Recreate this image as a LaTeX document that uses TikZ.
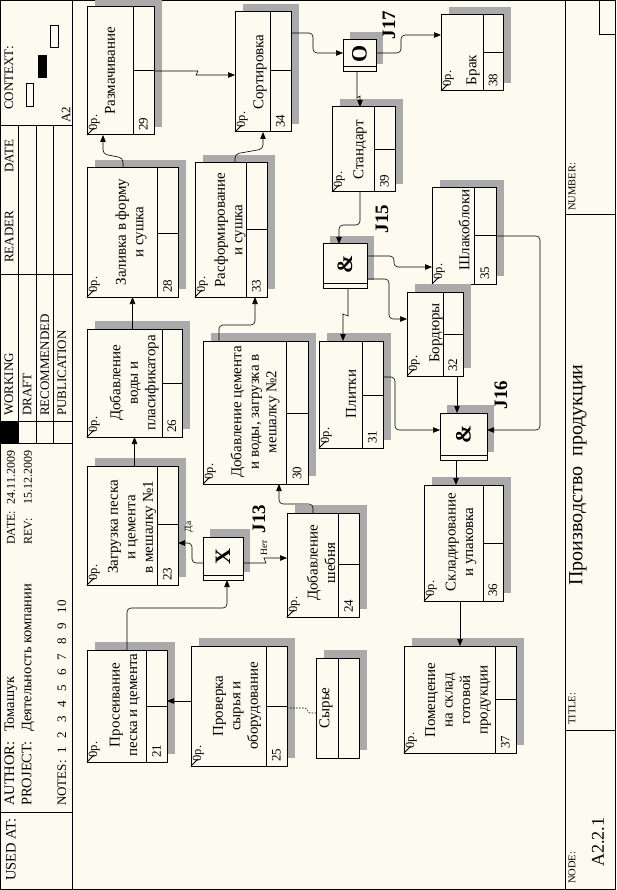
\documentclass[tikz,border=0pt]{standalone}
\usepackage{fontspec}
\setmainfont{Liberation Serif}
\usetikzlibrary{arrows.meta}
\definecolor{paper1}{RGB}{253,251,240}
\definecolor{shade1}{RGB}{170,170,170}

\tikzset{
  uobbox/.style={draw, line width=1pt, fill=paper1, inner sep=0pt, outer sep=0pt, anchor=north west},
  uobtext/.style={rotate=90, align=center, inner sep=0pt, font=\fontsize{15}{17.5}\selectfont},
  oplabel/.style={rotate=90, anchor=north west, inner sep=0.5pt, font=\fontsize{12.5}{14}\selectfont},
  numlabel/.style={rotate=90, anchor=west, inner sep=1pt, font=\fontsize{13}{15}\selectfont},
  juncsym/.style={rotate=90, inner sep=0pt, font=\bfseries\fontsize{22}{24}\selectfont},
  jlabel/.style={rotate=90, inner sep=0pt, font=\bfseries\fontsize{19}{22}\selectfont},
  branch/.style={rotate=90, inner sep=0pt, font=\fontsize{9.5}{10}\selectfont},
  hdr/.style={rotate=90, anchor=west, inner sep=0pt, font=\fontsize{13}{15}\selectfont},
  big hdr/.style={hdr, font=\fontsize{14.5}{16}\selectfont},
  small hdr/.style={hdr, font=\fontsize{10.5}{12}\selectfont},
  link/.style={line width=0.6pt, rounded corners=4pt},
  arr/.style={link, -{Triangle[length=7pt,width=5.5pt]}},
  dotlink/.style={line width=0.6pt, dash pattern=on 1.5pt off 1.5pt},
  frame/.style={line width=1pt},
}

% unit of behaviour: name, left, top, right, bottom, divider x, divider y, number
\newcommand{\uob}[8]{%
  \fill[shade1] (#2+8,#3-8) rectangle (#4+8,#5-8);
  \node[uobbox, minimum width={(#4-#2)*1pt}, minimum height={(#5-#3)*1pt}] (#1) at (#2,#3) {};
  \draw[line width=1pt] (#6,#3) -- (#6,#5) (#6,#7) -- (#4,#7);
  \draw[line width=1pt] (#2,#5) -- ++(7,-7);
  \node[oplabel] (#1o) at (#2+1,#5-4) {0р.};
  \node[numlabel] (#1n) at ({(#6+#4)/2},#5-3) {#8};
}
% junction: name, left, top, right, bottom, symbol
\newcommand{\junc}[6]{%
  \fill[shade1] (#2+7,#3-8) rectangle (#4+7,#5-8);
  \node[uobbox, minimum width={(#4-#2)*1pt}, minimum height={(#5-#3)*1pt}] (#1) at (#2,#3) {};
  \draw[line width=1pt] (#2,#5-5) -- (#4,#5-5);
  \node[juncsym] (#1s) at ({(#2+#4)/2},{(#3+#5)/2-2}) {#6};
}

\begin{document}
\begin{tikzpicture}[x=1pt, y=-1pt]
  \useasboundingbox (0,0) rectangle (616,890);
  \fill[paper1] (0,0) rectangle (616,890);

  % frame
  \draw[frame] (0.5,0.5) rectangle (615.5,889.5);
  \draw[frame] (72,0) -- (72,890) (565,0) -- (565,890);
  \draw[frame] (0,126) -- (72,126) (0,274) -- (72,274) (0,421) -- (72,421)
               (0,443) -- (72,443) (0,812) -- (72,812);
  \draw[frame] (18,126) -- (18,443) (36,126) -- (36,443) (53,126) -- (53,443);
  \fill (0,421) rectangle (18,443);
  \draw[frame] (565,215) -- (616,215) (565,730) -- (616,730);
  \draw[frame] (599,0) -- (599,35) -- (616,35);
  \draw[line width=0.8pt] (26,83) rectangle (33,106) (50,25) rectangle (58,47);
  \filldraw[line width=0.8pt] (38,55) rectangle (46,77);

  \node[hdr] (ctx) at (9,110) {CONTEXT:};
  \node[hdr] (a2) at (66,123) {A2};
  \node[hdr] (datecol) at (9,173) {DATE};
  \node[hdr] (reader) at (9,263) {READER};
  \node[hdr] (working) at (9,416) {WORKING};
  \node[hdr] (draft) at (27,416) {DRAFT};
  \node[hdr] (recom) at (45,416) {RECOMMENDED};
  \node[hdr] (publ) at (62,416) {PUBLICATION};
  \node[hdr, font=\fontsize{12}{14}\selectfont] (date) at (11,545) {\makebox[3.4em][l]{DATE:}24.11.2009};
  \node[hdr, font=\fontsize{12}{14}\selectfont] (rev) at (28,545) {\makebox[3.4em][l]{REV:}15.12.2009};
  \node[big hdr] (author) at (11,806) {\makebox[5.1em][l]{AUTHOR:}Томашук};
  \node[big hdr] (project) at (28,806) {\makebox[5.1em][l]{PROJECT:}Деятельность компании};
  \node[hdr] (notes) at (62,806) {NOTES:\hspace{.5em}1\hspace{.7em}2\hspace{.7em}3\hspace{.7em}4\hspace{.7em}5\hspace{.7em}6\hspace{.7em}7\hspace{.7em}8\hspace{.7em}9\hspace{.7em}10};
  \node[big hdr] (usedat) at (11,881) {USED AT:};
  \node[small hdr] (numberl) at (572,211) {NUMBER:};
  \node[small hdr] (titlel) at (572,725) {TITLE:};
  \node[small hdr] (nodel) at (572,884) {NODE:};
  \node[rotate=90, font=\fontsize{20}{22}\selectfont] (titlev) at (578,475) {Производство\ \ продукции};
  \node[rotate=90, font=\fontsize{18}{20}\selectfont] (nodev) at (598,842) {A2.2.1};

  % units of behaviour
  \uob{b29}{87}{7}{154}{135}{133}{71}{29}
  \node[uobtext] (b29t) at (110,71) {Размачивание};
  \uob{b28}{87}{168}{178}{297}{157}{234}{28}
  \node[uobtext] (b28t) at (131,232) {Заливка в форму\\и сушка};
  \uob{b33}{195}{163}{267}{297}{246}{230}{33}
  \node[uobtext] (b33t) at (230,230) {Расформирование\\и сушка};
  \uob{b34}{235}{12}{291}{132}{270}{71}{34}
  \node[uobtext] (b34t) at (260,72) {Сортировка};
  \uob{b26}{87}{329}{182}{437}{162}{383}{26}
  \node[uobtext] (b26t) at (134,383) {Добавление\\воды и\\пласификатора};
  \uob{b23}{87}{466}{178}{585}{157}{524}{23}
  \node[uobtext] (b23t) at (132,527) {Загрузка песка\\и цемента\\в мешалку №1};
  \uob{b30}{203}{341}{308}{484}{286}{413}{30}
  \node[uobtext] (b30t) at (255,412) {Добавление цемента\\и воды, загрузка в\\мешалку №2};
  \uob{b24}{287}{513}{359}{617}{338}{564}{24}
  \node[uobtext] (b24t) at (321,563) {Добавление\\шебня};
  \uob{b21}{87}{650}{167}{762}{146}{706}{21}
  \node[uobtext] (b21t) at (125,705) {Просеивание\\песка и цемента};
  \uob{b25}{191}{646}{287}{766}{266}{706}{25}
  \node[uobtext] (b25t) at (237,706) {Проверка\\сырья и\\оборудование};
  \uob{b39}{332}{107}{395}{192}{374}{150}{39}
  \node[uobtext] (b39t) at (360,150) {Стандарт};
  \uob{b38}{441}{15}{503}{91}{483}{53}{38}
  \node[uobtext] (b38t) at (473,70) {Брак};
  \uob{b35}{432}{188}{496}{284}{474}{236}{35}
  \node[uobtext] (b35t) at (464,230) {Шлакоблоки};
  \uob{b32}{407}{292}{463}{376}{443}{334}{32}
  \node[uobtext] (b32t) at (436,333) {Бордюры};
  \uob{b31}{319}{341}{383}{448}{362}{395}{31}
  \node[uobtext] (b31t) at (351,394) {Плитки};
  \uob{b36}{424}{485}{503}{601}{483}{543}{36}
  \node[uobtext] (b36t) at (461,542) {Складирование\\и упаковка};
  \uob{b37}{404}{646}{516}{753}{495}{699}{37}
  \node[uobtext] (b37t) at (458,700) {Помещение\\на склад\\готовой\\продукции};

  % referent
  \fill[shade1] (324,650) rectangle (367,750);
  \node[uobbox, minimum width=43pt, minimum height=100pt] (sy) at (316,658) {};
  \draw[line width=1pt] (338,658) -- (338,758);
  \node[uobtext] (syt) at (326,708) {Сырье};

  % junctions
  \junc{j17}{343}{40}{376}{72}{O}
  \junc{j15}{323}{244}{367}{288}{\&}
  \junc{j16}{440}{413}{487}{460}{\&}
  \junc{j13}{203}{537}{243}{580}{X}
  \node[jlabel] (j17l) at (389,25) {J17};
  \node[jlabel] (j15l) at (382,219) {J15};
  \node[jlabel] (j16l) at (501,395) {J16};
  \node[jlabel] (j13l) at (259,519) {J13};

  % links
  \draw[arr] (b29.east) -- ++(40,0) .. controls +(4,0) and +(-4,0) .. ++(6,4) -- ([yshift=-3pt]b34.west);
  \draw[arr] ([xshift=-9.5pt]b28.north) -- ++(0,-10) -- ++(-20,-4) -- ([xshift=-17.5pt]b29.south);
  \draw[arr] ([xshift=4pt]b33.north) -- ++(0,-9) -- ++(28,-5) -- (b34.south);
  \draw[arr] (b28.south |- b26.north) -- (b28.south);
  \draw[arr] (b26.south |- b23.north) -- (b26.south);
  \draw[arr] ([xshift=-36.5pt]b30.north) -- ++(0,-16) -| ([xshift=24pt]b33.south);
  \draw[arr] ([xshift=-10pt]b24.north) -- ++(0,-9) -| ([xshift=23.5pt]b30.south);
  \draw[arr] ([yshift=-4.5pt]j13.west) -- ++(-11,0) |- ([yshift=-17.5pt]b23.east);
  \node[branch] (da) at (189,527) {Да};
  \draw[arr] ([yshift=-4.5pt]j13.east) -- ++(19,0) .. controls +(4,0) and +(-4,0) .. ++(6,-5) -- ([yshift=7pt]b24.west);
  \node[branch] (net) at (264,548) {Нет};
  \draw[arr] (b21.north) -- ++(0,-42) -| ([xshift=4pt]j13.south);
  \draw[arr] ([yshift=5pt]b25.west) -- ([yshift=5pt]b21.east);
  \draw[dotlink] ([yshift=-2pt]b25.east) -- ++(18,0) .. controls +(3,0) and +(-3,0) .. ++(5,5) -- ([yshift=-5pt]sy.west);
  \draw[arr] ([yshift=39pt]b34.east) -- ++(22,0) |- ([yshift=3pt]j17.west);
  \draw[arr] ([yshift=3pt]j17.east) -- ++(25,0) |- ([yshift=18pt]b38.west);
  \draw[arr] ([xshift=-2.5pt]j17.south) -- ++(0,22) .. controls +(0,3) and +(0,-3) .. ++(3,6) -- ([xshift=-3.5pt]b39.north);
  \draw[arr] ([xshift=-3.5pt]b39.south) -- ++(0,33) -| ([xshift=-6pt]j15.north);
  \draw[arr] ([yshift=10pt]j15.east) -- ++(27,0) |- ([yshift=-31pt]b35.west);
  \draw[arr] ([yshift=-13pt]j15.east) -- ++(22,0) |- ([yshift=15pt]b32.west);
  \draw[arr] ([xshift=3pt]j15.south) -- ++(0,24) .. controls +(0,3) and +(0,-3) .. ++(-5,6) -- ([xshift=-8pt]b31.north);
  \draw[arr] (b35.east) -- ++(44,0) |- ([yshift=6.5pt]j16.east);
  \draw[arr] ([xshift=22pt]b32.south) -- ([xshift=-6.5pt]j16.north);
  \draw[arr] ([yshift=17.5pt]b31.east) -- ++(12,0) |- ([yshift=6.5pt]j16.west);
  \draw[arr] ([xshift=-7.5pt]j16.south) -- ([xshift=-7.5pt]b36.north);
  \draw[arr] ([xshift=-3.5pt]b36.south) -- (b37.north);
\end{tikzpicture}
\end{document}
